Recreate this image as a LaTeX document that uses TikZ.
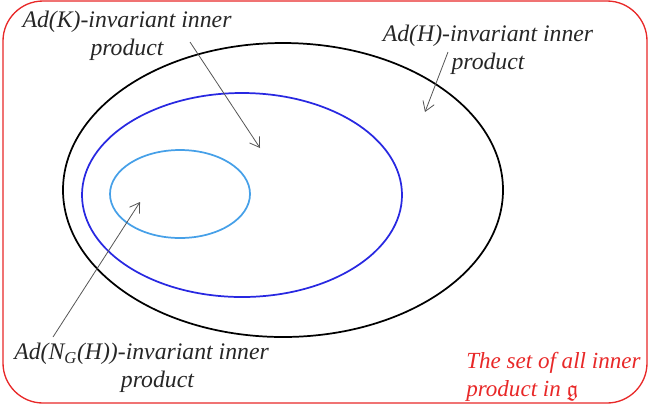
\documentclass[tikz,border=0pt]{standalone}
\usepackage{amssymb}
\usepackage{fontspec}
\setmainfont{Liberation Serif}
\usetikzlibrary{arrows.meta}
\definecolor{frame}{RGB}{232,40,40}
\definecolor{midblue}{RGB}{40,40,225}
\definecolor{lightblue}{RGB}{70,160,232}
\definecolor{arrowgray}{RGB}{85,85,85}
\begin{document}
\begin{tikzpicture}[x=0.75pt,y=-0.75pt,
  lbl/.style={font=\fontsize{17.8}{21}\selectfont\itshape, text=black!85, inner sep=0pt},
  pointer/.style={draw=arrowgray, line width=0.6pt, -{Straight Barb[length=7pt,width=9pt]}},
  setline/.style={line width=1.3pt}]
\useasboundingbox (0,0) rectangle (652,405);
\draw[frame, line width=1pt, rounded corners=30pt] (3,1) rectangle (647,403);
\draw[setline, black] (283,190) ellipse [x radius=220, y radius=147];
\draw[setline, midblue] (242,195) ellipse [x radius=160, y radius=102];
\draw[setline, lightblue] (180,194) ellipse [x radius=70, y radius=44];

\node[lbl, align=center] (K) at (127,36) {Ad(K)-invariant inner\\product};
\node[lbl, align=center] (H) at (488,50) {Ad(H)-invariant inner\\product};
\node[lbl, align=left, anchor=north west] (N) at (14,343) {Ad(N\textsubscript{G}(H))-invariant inner\\\hspace*{80pt}product};
\node[lbl, align=left, anchor=north west, text=frame, font=\fontsize{17.3}{21}\selectfont\itshape] (S) at (466,352) {The set of all inner\\product in $\mathfrak{g}$};

\coordinate (kend) at (260,148);
\coordinate (kstart) at (190,42);
\coordinate (hstart) at (448,52);
\coordinate (hend) at (425,112);
\coordinate (nstart) at (53,337);
\coordinate (nend) at (140,202);
\draw[pointer] (kstart) -- (kend);
\draw[pointer] (hstart) -- (hend);
\draw[pointer] (nstart) -- (nend);
\end{tikzpicture}
\end{document}
